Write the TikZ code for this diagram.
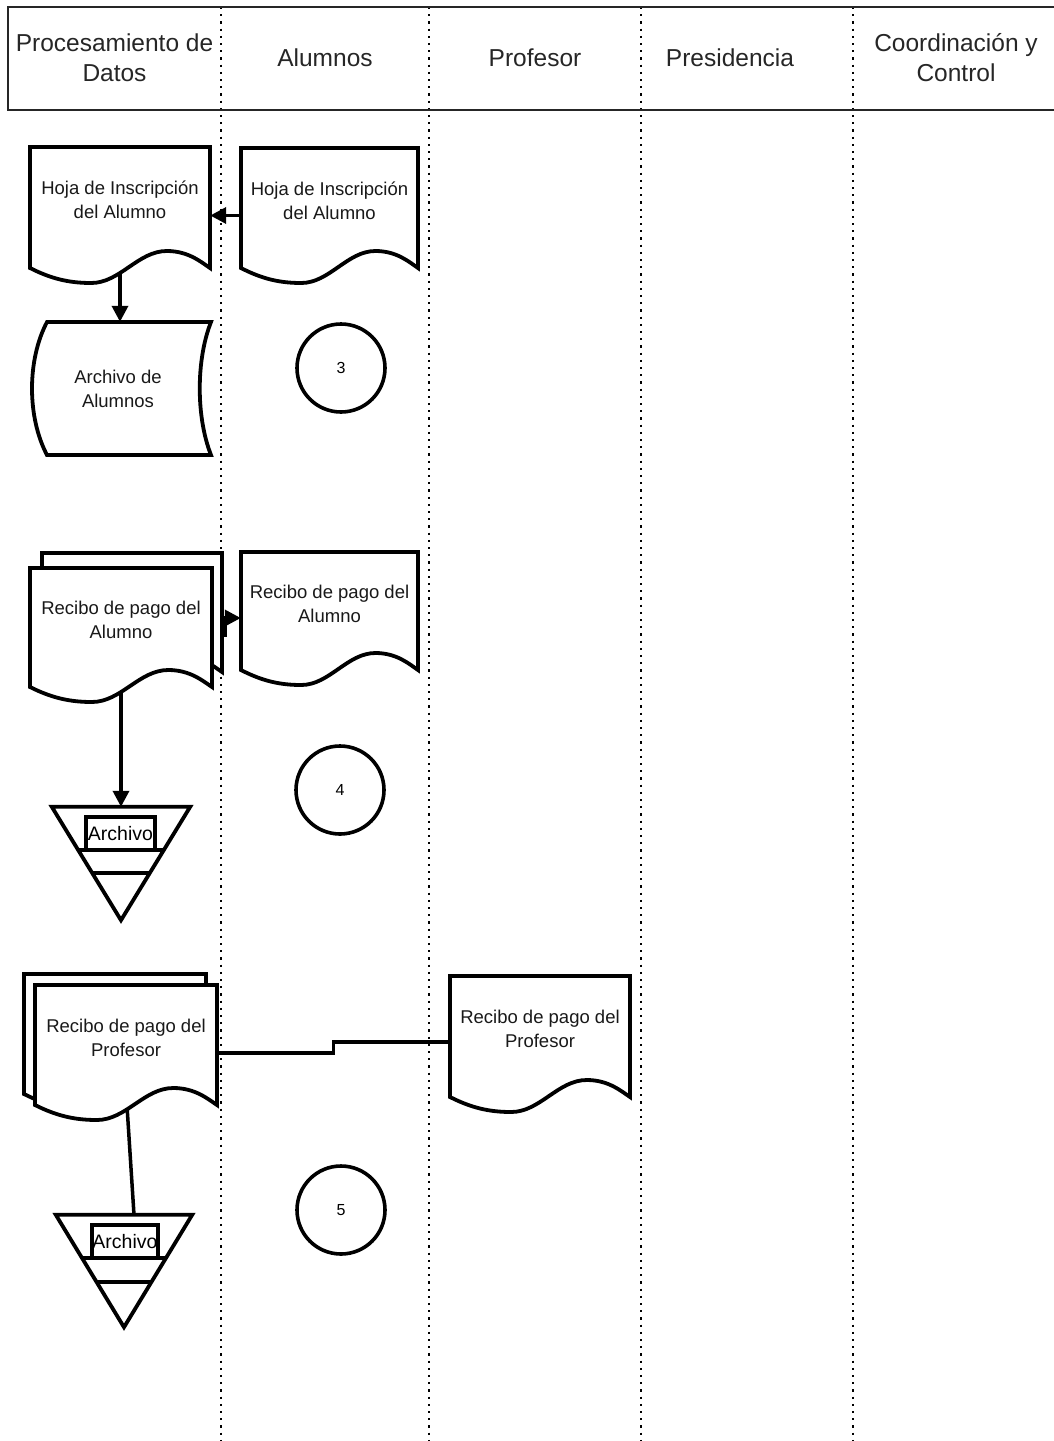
\documentclass[tikz,border=0pt]{standalone}
\usepackage{fontspec}
\setmainfont{Liberation Sans}
\usetikzlibrary{arrows.meta,calc}
\pgfdeclarelayer{bg}
\pgfdeclarelayer{mid}
\pgfsetlayers{bg,mid,main}
\newcommand\docoutline[4]{%
  \pgfmathsetmacro\dkW{#3-#1}%
  \draw[shapeline, fill=white] (#1,#2) -- (#3,#2) -- (#3,#4)
   .. controls ({#3-0.05*\dkW},{#4-6}) and ({#3-0.12*\dkW},{#4-17}) .. ({#3-0.24*\dkW},{#4-17})
   .. controls ({#1+0.60*\dkW},{#4-17}) and ({#1+0.50*\dkW},{#4+15}) .. ({#1+0.34*\dkW},{#4+15})
   .. controls ({#1+0.22*\dkW},{#4+15}) and ({#1+0.12*\dkW},{#4+11}) .. (#1,#4) -- cycle;%
}
\newcommand\mkdoc[6]{%
  \pgfmathsetmacro\dkWW{#4-#2}%
  \pgfmathsetmacro\dkH{#5-15-#3}%
  \pgfmathsetmacro\dkX{(#2+#4)/2}%
  \pgfmathsetmacro\dkY{(#3+#5-15)/2}%
  \node[doctext, minimum width=\dkWW pt, minimum height=\dkH pt] (#1) at (\dkX,\dkY) {#6};%
  \begin{pgfonlayer}{mid}%
    \docoutline{#2}{#3}{#4}{#5}%
  \end{pgfonlayer}%
}
\begin{document}
\begin{tikzpicture}[x=1pt,y=-1pt,
  shapeline/.style={line width=3.8pt},
  doctext/.style={rectangle, draw=none, inner sep=0pt, align=center, text=black!90, font=\fontsize{18.5}{24}\selectfont},
  hdrtext/.style={align=center, inner sep=0pt, text=black!85, font=\fontsize{24.5}{30}\selectfont},
  circ/.style={circle, draw, line width=3.6pt, minimum size=88pt, inner sep=0pt, font=\fontsize{16}{18}\selectfont},
  conn/.style={line width=3.5pt},
  arr/.style={conn, -{Triangle[length=16pt,width=16pt]}},
  lane/.style={line width=2.2pt, dash pattern=on 2.2pt off 5pt},
  hdr/.style={line width=2pt, draw=black!85},
  arch/.style={rectangle, draw, line width=3.2pt, inner sep=0pt, font=\fontsize{19.5}{22}\selectfont},
  tri/.style={rectangle, draw=none, inner sep=0pt}
]
\useasboundingbox (0,0) rectangle (1054,1441);

% header
\draw[hdr] (1070,7) -- (8,7) -- (8,110) -- (1070,110);
\node[hdrtext] (h1) at (114.5,58) {Procesamiento de\\Datos};
\node[hdrtext] (h2) at (325,58) {Alumnos};
\node[hdrtext] (h3) at (535,58) {Profesor};
\node[hdrtext] (h4) at (730,58) {Presidencia};
\node[hdrtext] (h5) at (956,58) {Coordinación y\\Control};

% section 1
\mkdoc{d1}{30}{147}{210}{268}{Hoja de Inscripción\\del Alumno}
\mkdoc{d2}{241}{148}{418}{268}{Hoja de Inscripción\\del Alumno}
\node[doctext, minimum width=179pt, minimum height=133pt] (s1) at (118,388.5) {Archivo de\\Alumnos};
\begin{pgfonlayer}{mid}
\draw[shapeline, fill=white] (47,322) -- (211,322) .. controls (196,360) and (196,417) .. (211,455) -- (47,455) .. controls (27,417) and (27,360) .. (47,322) -- cycle;
\end{pgfonlayer}
\node[circ] (c3) at (341,368) {3};

% section 2
\begin{pgfonlayer}{mid}\docoutline{42}{553}{222}{672}\end{pgfonlayer}
\mkdoc{d3}{30}{568}{212}{687}{Recibo de pago del\\Alumno}
\mkdoc{d4}{241}{552}{418}{670}{Recibo de pago del\\Alumno}
\node[tri, minimum width=138pt, minimum height=113pt] (t1) at (121,863.5) {};
\begin{pgfonlayer}{mid}
\draw[shapeline, fill=white] (t1.north west) -- (t1.north east) -- (t1.south) -- cycle;
\draw[shapeline] ($(t1.north west)!0.38!(t1.south)$) -- ($(t1.north east)!0.38!(t1.south)$);
\draw[shapeline] ($(t1.north west)!0.584!(t1.south)$) -- ($(t1.north east)!0.584!(t1.south)$);
\end{pgfonlayer}
\node[arch, minimum width=69pt, minimum height=33pt] (a1) at (120.5,833.5) {Archivo};
\node[circ] (c4) at (340,790) {4};

% section 3
\begin{pgfonlayer}{mid}\docoutline{24}{974}{206}{1094}\end{pgfonlayer}
\mkdoc{d5}{35}{985}{217}{1105}{Recibo de pago del\\Profesor}
\mkdoc{d6}{450}{976}{630}{1097}{Recibo de pago del\\Profesor}
\node[tri, minimum width=136pt, minimum height=112pt] (t2) at (124,1271) {};
\begin{pgfonlayer}{mid}
\draw[shapeline, fill=white] (t2.north west) -- (t2.north east) -- (t2.south) -- cycle;
\draw[shapeline] ($(t2.north west)!0.384!(t2.south)$) -- ($(t2.north east)!0.384!(t2.south)$);
\draw[shapeline] ($(t2.north west)!0.598!(t2.south)$) -- ($(t2.north east)!0.598!(t2.south)$);
\end{pgfonlayer}
\node[arch, minimum width=66pt, minimum height=33pt] (a2) at (125,1241.5) {Archivo};
\node[circ] (c5) at (341,1210) {5};

% lanes and connectors
\begin{pgfonlayer}{bg}
\foreach \lx in {221,429,641,853} {\draw[lane] (\lx,7) -- (\lx,1441);}
\draw[arr] ([yshift=-15pt]d2.west) -- ([yshift=-15pt]d2.west -| d1.east);
\draw[arr] (d1.south) -- (d1.south |- s1.north);
\draw[arr] ([yshift=-15pt]d3.east) -- ++(13,0) |- ([yshift=-14.5pt]d4.west);
\draw[arr] (d3.south) -- (d3.south |- t1.north);
\coordinate (p5) at ([yshift=-15.5pt]d5.east);
\coordinate (p6) at ([yshift=-13pt]d6.west);
\coordinate (pm) at ($(p5)!0.5!(p6)$);
\draw[conn] (p5) -| (pm) |- (p6);
\draw[conn] (d5.south) -- ([xshift=10pt]t2.north);
\end{pgfonlayer}
\end{tikzpicture}
\end{document}
